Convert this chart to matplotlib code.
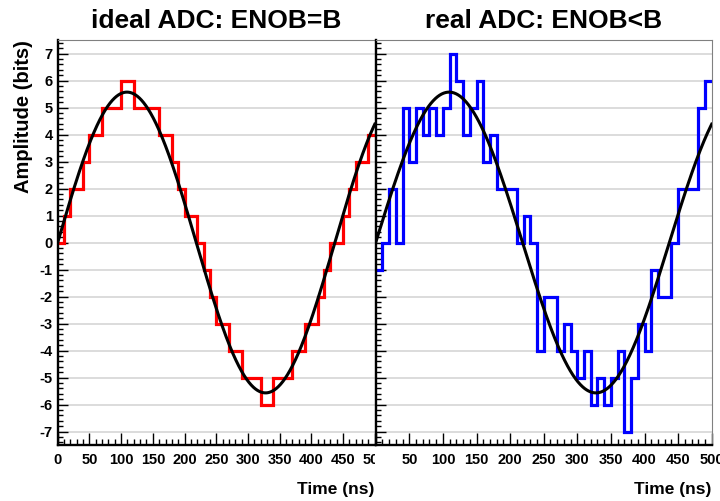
import numpy as np
import matplotlib
matplotlib.use("Agg")
import matplotlib.pyplot as plt
from matplotlib.ticker import MultipleLocator, FixedLocator, FixedFormatter
from matplotlib.transforms import Bbox, TransformedBbox

plt.rcParams['font.family'] = ['Liberation Sans', 'DejaVu Sans']
plt.rcParams['font.weight'] = 'bold'
plt.rcParams['axes.unicode_minus'] = False

# 10 ns bins, 0..500 ns
bin_edges = np.arange(0, 501, 10)

# ideal ADC output (bits), one value per bin
ideal_adc = [0, 1, 2, 2, 3, 4, 4, 5, 5, 5,
             6, 6, 5, 5, 5, 5, 4, 4, 3, 2,
             1, 1, 0, -1, -2, -3, -3, -4, -4, -5,
             -5, -5, -6, -6, -5, -5, -5, -4, -4, -3,
             -3, -2, -1, 0, 0, 1, 2, 3, 3, 4]

# real ADC output (bits), one value per bin
real_adc = [-1, 0, 2, 0, 5, 3, 5, 4, 5, 4,
            5, 7, 6, 4, 5, 6, 3, 4, 2, 2,
            2, 0, 1, 0, -4, -2, -2, -4, -3, -4,
            -5, -4, -6, -5, -6, -5, -4, -7, -5, -3,
            -4, -1, -2, -2, 0, 2, 2, 2, 5, 6]

# analog input signal
sine_amplitude = 5.57
sine_period_ns = 437.0

titles = ['ideal ADC: ENOB=B', 'real ADC: ENOB<B']
colors = ['#ff0000', '#0000ff']

t = np.linspace(0, 500, 1001)
signal = sine_amplitude * np.sin(2 * np.pi * t / sine_period_ns)

fig = plt.figure(figsize=(7.2, 5.01), dpi=100)
ax_l = fig.add_axes([57.7 / 720, 56 / 501, (374.8 - 57.7) / 720, 405 / 501])
ax_r = fig.add_axes([375.7 / 720, 56 / 501, (711.7 - 375.7) / 720, 405 / 501])

for ax, vals, col, title in zip([ax_l, ax_r], [ideal_adc, real_adc], colors, titles):
    ax.set_xlim(0, 500)
    ax.set_ylim(-7.5, 7.5)
    for y in range(-7, 8):
        ax.axhline(y, color='#d6d6d6', lw=1.2, zorder=0)
    ax.stairs(vals, bin_edges, baseline=None, color=col, lw=2.3, zorder=2)
    ax.plot(t, signal, color='black', lw=2.2, zorder=3)

    ax.xaxis.set_major_locator(MultipleLocator(50))
    ax.xaxis.set_minor_locator(MultipleLocator(10))
    ax.yaxis.set_major_locator(MultipleLocator(1))
    ax.yaxis.set_minor_locator(MultipleLocator(0.2))
    ax.tick_params(which='both', direction='in', color='black', width=1.0,
                   labelsize=10.5, top=False, right=False)
    ax.tick_params(axis='x', which='major', length=9, pad=5.5)
    ax.tick_params(axis='x', which='minor', length=4.5)
    ax.tick_params(axis='y', which='major', length=7, pad=3.5)
    ax.tick_params(axis='y', which='minor', length=3.5)

    for s in ['left', 'bottom']:
        ax.spines[s].set_color('black')
        ax.spines[s].set_linewidth(1.7)
    for s in ['top', 'right']:
        ax.spines[s].set_color('#808080')
        ax.spines[s].set_linewidth(0.8)

    ax.set_title(title, fontsize=19, fontweight='bold', pad=9)
    ax.set_xlabel('Time (ns)', fontsize=12.5, fontweight='bold', loc='right', labelpad=11)
    for lab in ax.get_xticklabels() + ax.get_yticklabels():
        lab.set_fontweight('bold')

ax_l.set_ylabel('Amplitude (bits)', fontsize=14.5, fontweight='bold', loc='top', labelpad=5)
ax_r.tick_params(axis='y', labelleft=False)

# the right pad hides its "0" label
xt = list(range(0, 501, 50))
ax_r.xaxis.set_major_locator(FixedLocator(xt))
ax_r.xaxis.set_major_formatter(FixedFormatter([''] + [str(v) for v in xt[1:]]))

# the left pad clips its "500" label at the pad edge
fig.canvas.draw()
clip = TransformedBbox(Bbox([[0, 0], [375 / 720, 1]]), fig.transFigure)
for lab in ax_l.get_xticklabels():
    lab.set_clip_box(clip)
    lab.set_clip_on(True)

fig.savefig('out.png', dpi=100)
